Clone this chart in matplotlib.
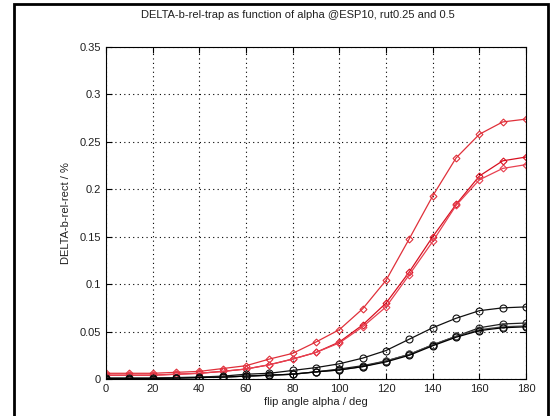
import matplotlib.pyplot as plt
from matplotlib.patches import Rectangle

plt.rcParams['font.family'] = ['Liberation Sans', 'DejaVu Sans']

alpha = [0, 10, 20, 30, 40, 50, 60, 70, 80, 90, 100, 110, 120, 130, 140, 150, 160, 170, 180]

# red (diamond) curves
red_top = [0.006, 0.006, 0.006, 0.007, 0.008, 0.011, 0.014, 0.021, 0.027, 0.039, 0.052,
           0.074, 0.104, 0.148, 0.193, 0.233, 0.258, 0.271, 0.274]
red_a = [0.004, 0.004, 0.004, 0.005, 0.006, 0.008, 0.0105, 0.015, 0.021, 0.028, 0.039,
         0.057, 0.080, 0.113, 0.150, 0.184, 0.214, 0.230, 0.234]
red_b = [0.004, 0.004, 0.004, 0.005, 0.006, 0.008, 0.0105, 0.015, 0.021, 0.028, 0.038,
         0.055, 0.076, 0.110, 0.145, 0.183, 0.210, 0.222, 0.226]

# black (circle) curves
blk_top = [0.001, 0.001, 0.001, 0.0015, 0.002, 0.003, 0.005, 0.006, 0.009, 0.012, 0.016,
           0.022, 0.030, 0.042, 0.054, 0.064, 0.072, 0.075, 0.076]
blk_a = [0.0005, 0.0005, 0.0005, 0.001, 0.0015, 0.002, 0.003, 0.004, 0.005, 0.0075, 0.0105,
         0.014, 0.019, 0.026, 0.036, 0.045, 0.054, 0.058, 0.059]
blk_b = [0.0005, 0.0005, 0.0005, 0.001, 0.0015, 0.002, 0.003, 0.004, 0.005, 0.0075, 0.0095,
         0.013, 0.019, 0.026, 0.036, 0.045, 0.052, 0.055, 0.056]
blk_c = [0.0005, 0.0005, 0.0005, 0.001, 0.0015, 0.002, 0.003, 0.004, 0.005, 0.0075, 0.0095,
         0.013, 0.018, 0.025, 0.035, 0.044, 0.051, 0.054, 0.055]

xticks = list(range(0, 181, 20))
yticks = [0, 0.05, 0.1, 0.15, 0.2, 0.25, 0.3, 0.35]
ytick_labels = ['0', '0.05', '0.1', '0.15', '0.2', '0.25', '0.3', '0.35']

fig = plt.figure(figsize=(5.52, 4.16), dpi=100)
ax = fig.add_axes([0.192, 0.089, 0.761, 0.798])

for ys, c in [(red_top, '#e0303a'), (red_a, '#d81020'), (red_b, '#e84050')]:
    ax.plot(alpha, ys, color=c, marker='D', markersize=3.5, mfc='none', mec=c, lw=0.9, mew=0.8)
for ys, c in [(blk_top, '#101010'), (blk_a, '#202020'), (blk_b, '#505050'), (blk_c, '#000000')]:
    ax.plot(alpha, ys, color=c, marker='o', markersize=5, mfc='none', mec=c, lw=0.9, mew=0.8)

ax.set_xlim(0, 180)
ax.set_ylim(0, 0.35)
ax.set_xticks(xticks)
ax.set_yticks(yticks)
ax.set_yticklabels(ytick_labels)
ax.grid(True, color='black', linestyle=(0, (1, 3)), linewidth=0.8)
ax.tick_params(direction='in', top=True, right=True, labelsize=8, length=4, width=0.8,
               labelcolor='#202020')
for s in ax.spines.values():
    s.set_linewidth(0.8)
ax.set_xlabel('flip angle alpha / deg', fontsize=8, labelpad=2, color='#202020')
ax.set_ylabel('DELTA-b-rel-rect / %', fontsize=8, labelpad=6, color='#202020')

fig.text(298 / 552, 1 - 15 / 416, 'DELTA-b-rel-trap as function of alpha @ESP10, rut0.25 and 0.5',
         ha='center', va='center', fontsize=8, color='#202020')

# screenshot frame
fig.patches.append(Rectangle((14 / 552, -0.05), (548 - 14) / 552, 1.05 - 4 / 416,
                             transform=fig.transFigure, fill=False, edgecolor='black', lw=2))

fig.savefig('out.png', dpi=100)
